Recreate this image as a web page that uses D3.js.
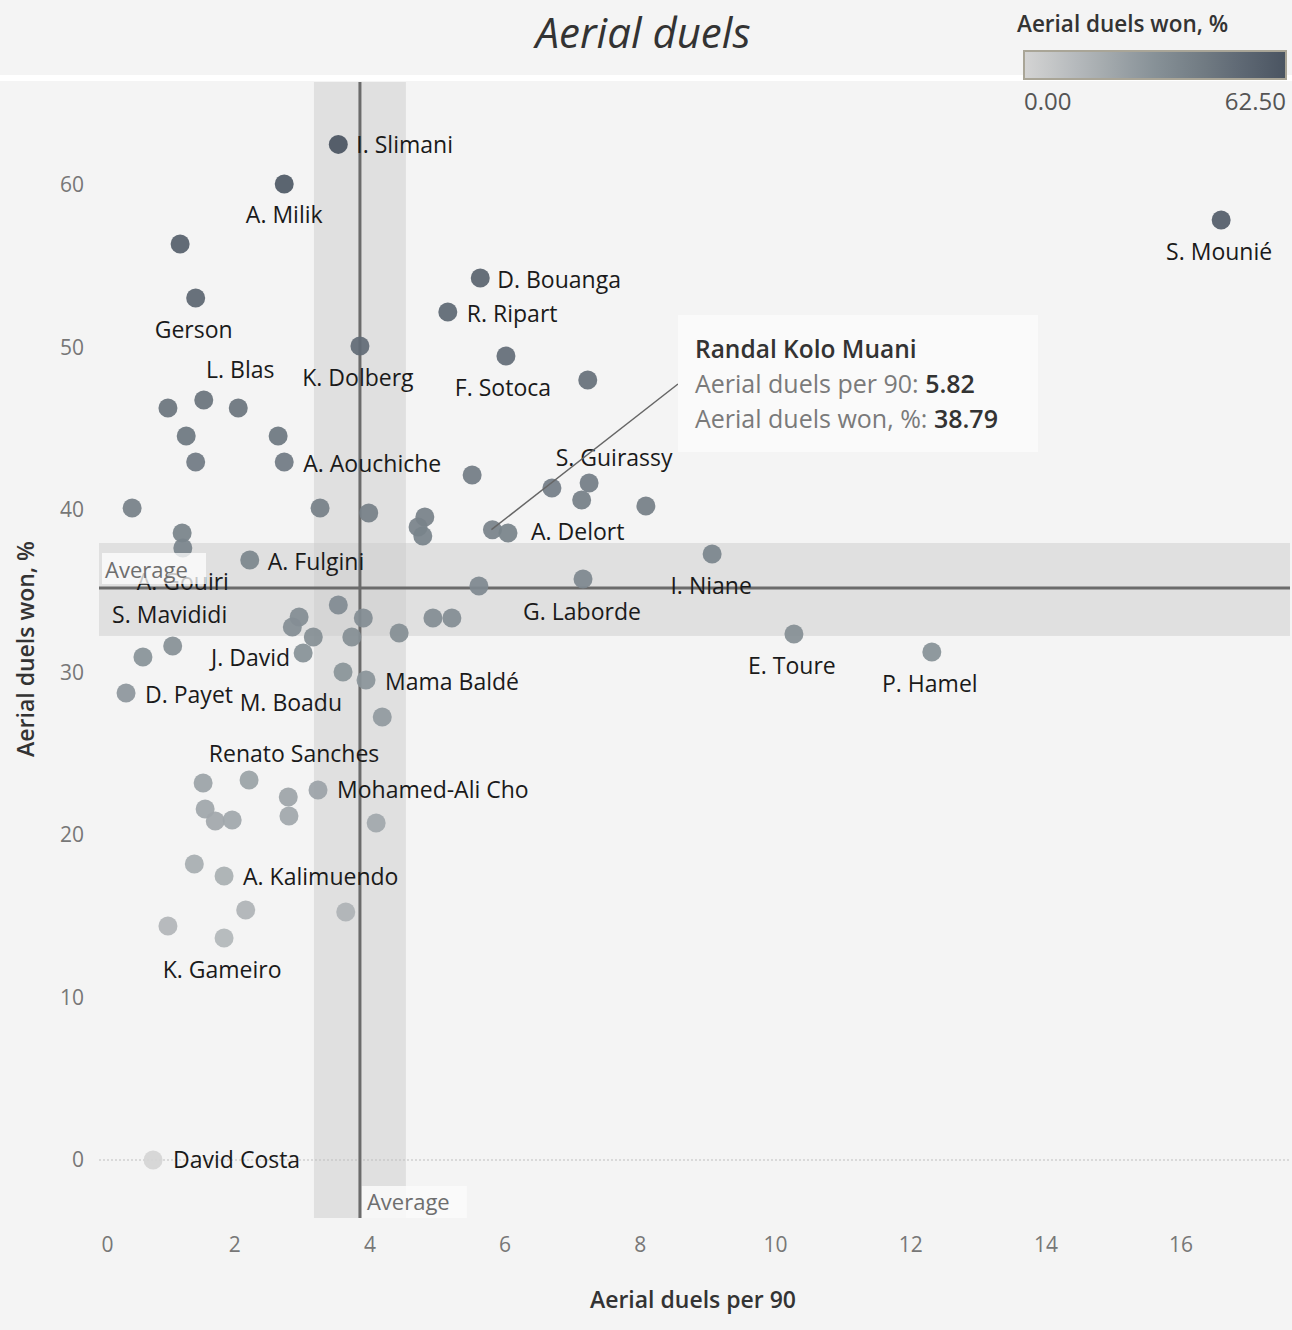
<!DOCTYPE html>
<html><head><meta charset="utf-8">
<script src="https://cdn.jsdelivr.net/npm/d3@7"></script>
<style>
html,body{margin:0;padding:0;background:#f4f4f4;}
svg{display:block;font-family:"Open Sans","Noto Sans",sans-serif;}
</style></head>
<body>
<svg id="chart" width="1292" height="1330"></svg>
<script>
// ---------- data ----------
const players = ["I. Slimani","A. Milik","","Gerson","S. Mounié","D. Bouanga","R. Ripart","K. Dolberg","F. Sotoca","",
 "","","L. Blas","","","","A. Aouchiche","","","S. Guirassy",
 "","","","","","","","","Randal Kolo Muani","A. Delort",
 "","A. Gouiri","A. Fulgini","I. Niane","G. Laborde","","E. Toure","P. Hamel","","",
 "","","","","","","","S. Mavididi","J. David","",
 "D. Payet","M. Boadu","Mama Baldé","","","Renato Sanches","","Mohamed-Ali Cho","","",
 "","","","","A. Kalimuendo","","","","K. Gameiro","David Costa"];
const duelsPer90 = [3.54,2.74,1.20,1.43,16.60,5.64,5.16,3.86,6.02,7.23,
 1.55,1.02,2.06,1.29,2.65,1.43,2.74,5.52,6.70,7.25,
 7.14,8.09,0.49,3.27,3.99,4.82,4.72,4.79,5.82,6.05,
 1.23,1.24,2.23,9.07,7.16,5.62,10.28,12.32,3.54,2.96,
 2.86,3.91,4.94,5.22,3.17,3.74,4.44,1.09,3.02,0.65,
 0.40,3.61,3.95,4.19,1.54,2.22,2.80,3.24,1.57,1.72,
 1.97,2.81,4.10,1.41,1.85,2.17,3.65,1.02,1.85,0.80];
const duelsWonPct = [62.5,60.06,56.37,53.05,57.85,54.28,52.18,50.09,49.48,48.0,
 46.77,46.28,46.28,44.55,44.55,42.95,42.95,42.15,41.35,41.66,
 40.62,40.25,40.12,40.12,39.82,39.57,38.95,38.4,38.79,38.58,
 38.58,37.66,36.92,37.29,35.75,35.32,32.37,31.26,34.15,33.42,
 32.8,33.35,33.35,33.35,32.18,32.18,32.43,31.63,31.2,30.95,
 28.74,30.03,29.54,27.26,23.2,23.38,22.34,22.77,21.6,20.86,
 20.92,21.17,20.74,18.22,17.48,15.38,15.26,14.4,13.66,0];
const avgPer90 = 3.86, avgPer90Band = [3.18, 4.54];
const avgWon = 35.2, avgWonBand = [32.25, 37.97];
const xTicks = [0,2,4,6,8,10,12,14,16];
const yTicks = [0,10,20,30,40,50,60];
const colorDomain = [0, 62.5];
const colorStops = ["#d4d4d4","#879197","#4a5461"];
const highlighted = {name:"Randal Kolo Muani", per90:"5.82", won:"38.79"};

// ---------- label layout (px offsets from mark) ----------
const labelLayout = {
 "I. Slimani":[18,1,"start"], "A. Milik":[0,31,"middle"], "Gerson":[-2,32,"middle"],
 "S. Mounié":[-2,32,"middle"], "D. Bouanga":[17,2,"start"], "R. Ripart":[19,2,"start"],
 "K. Dolberg":[-2,32,"middle"], "F. Sotoca":[-3,32,"middle"], "L. Blas":[2,-38,"middle"],
 "A. Aouchiche":[19,2,"start"], "S. Guirassy":[25,-25,"middle"], "A. Delort":[23,-1,"start"],
 "A. Fulgini":[18,2,"start"], "A. Gouiri":[0,34,"middle"], "S. Mavididi":[-3,-31,"middle"],
 "I. Niane":[-1,32,"middle"], "G. Laborde":[-1,33,"middle"], "A. Elis":[16,30,"middle"],
 "E. Toure":[-2,32,"middle"], "P. Hamel":[-2,32,"middle"], "J. David":[-13,5,"end"],
 "D. Payet":[19,2,"start"], "M. Boadu":[-1,31,"end"], "Mama Baldé":[19,2,"start"],
 "Renato Sanches":[45,-26,"middle"], "Mohamed-Ali Cho":[19,0,"start"],
 "A. Kalimuendo":[19,1,"start"], "K. Gameiro":[-2,32,"middle"], "David Costa":[20,0,"start"]
};

// ---------- layout ----------
const W = 1292, H = 1330;
const plot = {left:99, right:1290, top:82, bottom:1218};
const svg = d3.select("#chart");

const x = d3.scaleLinear().domain([0, (plot.right-plot.left)/67.6]).range([plot.left, plot.right]);
const y = d3.scaleLinear().domain([0, 10]).range([1160, 997.5]);
const color = d3.scaleLinear().domain([colorDomain[0], (colorDomain[0]+colorDomain[1])/2, colorDomain[1]])
  .range(colorStops).interpolate(d3.interpolateRgb).clamp(true);

// header
svg.append("rect").attr("x",0).attr("y",0).attr("width",W).attr("height",H).attr("fill","#f4f4f4");
svg.append("rect").attr("x",0).attr("y",75).attr("width",W).attr("height",6).attr("fill","#ffffff");
svg.append("text").attr("x",643).attr("y",48).attr("text-anchor","middle")
  .attr("font-size",42).attr("font-style","italic").attr("fill","#333").text("Aerial duels");

// legend
const defs = svg.append("defs");
const grad = defs.append("linearGradient").attr("id","lg");
d3.range(0,1.0001,0.1).forEach(t=>{
  grad.append("stop").attr("offset",t).attr("stop-color",color(colorDomain[0]+t*(colorDomain[1]-colorDomain[0])));
});
svg.append("text").attr("x",1017).attr("y",32).attr("font-size",22.5).attr("font-weight",600).attr("fill","#333").text("Aerial duels won, %");
svg.append("rect").attr("x",1024).attr("y",51).attr("width",262).attr("height",28)
  .attr("fill","url(#lg)").attr("stroke","#a9a597").attr("stroke-width",2);
const legScale = d3.scaleLinear().domain(colorDomain).range([1024,1286]);
svg.append("text").attr("x",legScale(colorDomain[0])).attr("y",110).attr("font-size",24).attr("fill","#555").text(colorDomain[0].toFixed(2));
svg.append("text").attr("x",legScale(colorDomain[1])).attr("y",110).attr("text-anchor","end").attr("font-size",24).attr("fill","#555").text(colorDomain[1].toFixed(2));

// bands
const yTop = plot.top, yBot = plot.bottom;
svg.append("rect").attr("x",x(avgPer90Band[0])).attr("y",yTop).attr("width",x(avgPer90Band[1])-x(avgPer90Band[0])).attr("height",yBot-yTop).attr("fill","#e0e0e0");
svg.append("rect").attr("x",plot.left).attr("y",y(avgWonBand[1])).attr("width",plot.right-plot.left).attr("height",y(avgWonBand[0])-y(avgWonBand[1])).attr("fill","#e0e0e0");
svg.append("rect").attr("x",x(avgPer90Band[0])).attr("y",y(avgWonBand[1])).attr("width",x(avgPer90Band[1])-x(avgPer90Band[0])).attr("height",y(avgWonBand[0])-y(avgWonBand[1])).attr("fill","#d6d6d6");

// zero line
svg.append("line").attr("x1",plot.left).attr("x2",plot.right).attr("y1",y(0)).attr("y2",y(0))
  .attr("stroke","#bdbdbd").attr("stroke-width",1.2).attr("stroke-dasharray","2,2");

// average lines
svg.append("line").attr("x1",x(avgPer90)).attr("x2",x(avgPer90)).attr("y1",yTop).attr("y2",yBot).attr("stroke","#6b6b6b").attr("stroke-width",3);
svg.append("line").attr("x1",plot.left).attr("x2",plot.right).attr("y1",y(avgWon)).attr("y2",y(avgWon)).attr("stroke","#6b6b6b").attr("stroke-width",3);

// axes
const yAxis = d3.axisLeft(y).tickValues(yTicks).tickSize(0).tickPadding(0).tickFormat(d3.format("d"));
const gy = svg.append("g").attr("transform","translate(84,0)").call(yAxis);
gy.select(".domain").remove();
gy.selectAll("text").attr("font-size",21).attr("fill","#777").attr("font-family","Open Sans");

const xAxis = d3.axisBottom(x).tickValues(xTicks).tickSize(0).tickPadding(0).tickFormat(d3.format("d"));
const gx = svg.append("g").attr("transform","translate(0,1237)").call(xAxis);
gx.select(".domain").remove();
gx.selectAll("text").attr("font-size",21).attr("fill","#777").attr("font-family","Open Sans");
gx.selectAll(".tick").filter(d=>d===0).select("text").attr("dx",8);

svg.append("text").attr("x",693).attr("y",1308).attr("text-anchor","middle").attr("font-size",23).attr("font-weight",600).attr("fill","#333").text("Aerial duels per 90");
svg.append("text").attr("transform","translate(34,649) rotate(-90)").attr("text-anchor","middle").attr("font-size",23).attr("font-weight",600).attr("fill","#333").text("Aerial duels won, %");

// points
const data = players.map((n,i)=>({name:n, px:duelsPer90[i], py:duelsWonPct[i]}));
svg.append("g").selectAll("circle").data(data).join("circle")
  .attr("cx",d=>x(d.px)).attr("cy",d=>y(d.py)).attr("r",9.5)
  .attr("fill",d=>color(d.py)).attr("fill-opacity",0.93);

// labels
svg.append("g").selectAll("text").data(data.filter(d=>labelLayout[d.name])).join("text")
  .attr("x",d=>x(d.px)+labelLayout[d.name][0]).attr("y",d=>y(d.py)+labelLayout[d.name][1])
  .attr("dy","0.35em").attr("text-anchor",d=>labelLayout[d.name][2])
  .attr("font-size",23).attr("fill","#1a1a1a").text(d=>d.name);

// average annotations
svg.append("rect").attr("x",102).attr("y",553).attr("width",104).attr("height",31).attr("fill","#ffffff").attr("fill-opacity",0.75);
svg.append("text").attr("x",105).attr("y",570).attr("dy","0.35em").attr("font-size",22).attr("fill","#6e6e6e").text("Average");
svg.append("rect").attr("x",x(avgPer90)+2).attr("y",1186).attr("width",105).attr("height",32).attr("fill","#fafafa").attr("fill-opacity",0.85);
svg.append("text").attr("x",x(avgPer90)+7).attr("y",1202).attr("dy","0.35em").attr("font-size",22).attr("fill","#6e6e6e").text("Average");

// highlighted tooltip
const hi = data.find(d=>d.name===highlighted.name);
svg.append("line").attr("x1",x(hi.px)-1).attr("y1",y(hi.py)).attr("x2",678).attr("y2",384).attr("stroke","#666").attr("stroke-width",1.5);
svg.append("rect").attr("x",678).attr("y",315).attr("width",360).attr("height",137).attr("fill","#fafafa");
svg.append("text").attr("x",695).attr("y",349).attr("dy","0.35em").attr("font-size",24.5).attr("font-weight",600).attr("fill","#333").text(highlighted.name);
const t1 = svg.append("text").attr("x",695).attr("y",384).attr("dy","0.35em").attr("font-size",25);
t1.append("tspan").attr("fill","#7a7a7a").text("Aerial duels per 90: ");
t1.append("tspan").attr("fill","#333").attr("font-weight",600).text(highlighted.per90);
const t2 = svg.append("text").attr("x",695).attr("y",419).attr("dy","0.35em").attr("font-size",25);
t2.append("tspan").attr("fill","#7a7a7a").text("Aerial duels won, %: ");
t2.append("tspan").attr("fill","#333").attr("font-weight",600).text(highlighted.won);
</script>
</body></html>
